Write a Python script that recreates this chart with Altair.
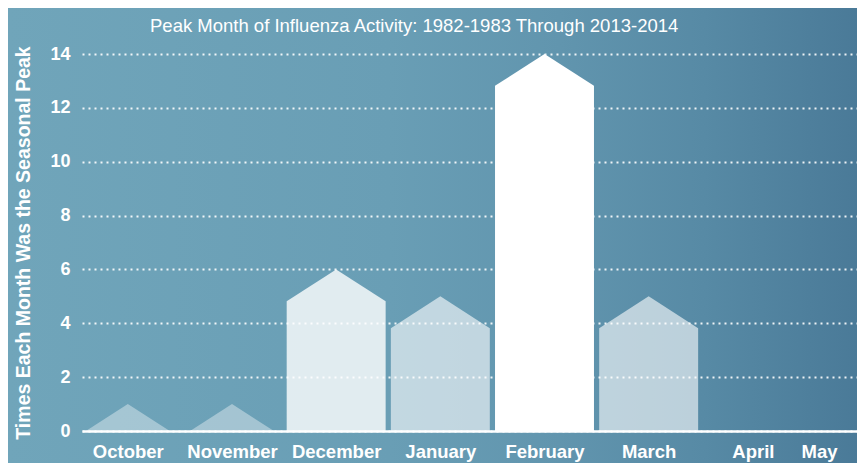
import json
import altair as alt
import pandas as pd

# ---- data ----
months = ["October", "November", "December", "January", "February", "March", "April", "May"]
counts = [1, 1, 6, 5, 14, 5, 0, 0]
y_ticks = [0, 2, 4, 6, 8, 10, 12, 14]
title_text = "Peak Month of Influenza Activity: 1982-1983 Through 2013-2014"
y_title = "Times Each Month Was the Seasonal Peak"

# ---- style constants ----
ROOF = 1.18      # height of the house "roof" in value units
HALF = 0.475     # half bar width in band units
FONT = "Liberation Sans, Arial, sans-serif"
W, H = 775, 377
PL, PT, PR, PB = 74, 46, 0, 32

rows = []
for i, (m, c) in enumerate(zip(months, counts)):
    if c <= 0:
        continue
    if c >= ROOF:
        hw, sh = HALF, c - ROOF
    else:
        hw, sh = HALF * c / ROOF, 0.0
    for dx, yv in [(-hw, sh), (0.0, c), (hw, sh)]:
        rows.append({"month": m, "count": c, "x": i + dx, "top": yv})
df = pd.DataFrame(rows)

gradient = alt.LinearGradient(
    gradient="linear",
    stops=[
        alt.GradientStop(color="#70a5ba", offset=0),
        alt.GradientStop(color="#699eb5", offset=0.45),
        alt.GradientStop(color="#6195ae", offset=0.65),
        alt.GradientStop(color="#578aa5", offset=0.82),
        alt.GradientStop(color="#4a7a98", offset=1),
    ],
    x1=0, x2=1, y1=0, y2=0,
)

bg = alt.Chart(pd.DataFrame({"a": [0]})).mark_rect(color=gradient).encode(
    x=alt.value(-PL), x2=alt.value(W + PR), y=alt.value(-PT), y2=alt.value(H + PB)
)

label_expr = json.dumps(months) + "[datum.value]"

bars = alt.Chart(df).mark_area(color="white", interpolate="linear").encode(
    x=alt.X(
        "x:Q",
        scale=alt.Scale(domain=[-0.44, 7.0], nice=False, zero=False),
        axis=alt.Axis(
            values=list(range(len(months))),
            labelExpr=label_expr,
            title=None,
            grid=False,
            ticks=False,
            domain=True,
            domainColor="white",
            domainWidth=2.5,
            labelFont=FONT,
            labelFontSize=18.5,
            labelFontWeight="bold",
            labelColor="white",
            labelBaseline="top",
            labelPadding=11,
            labelFlush=False,
            labelOverlap=False,
            labelBound=False,
            labelOffset={"condition": {"test": "datum.value == 7", "value": -38}, "value": 0},
            zindex=1,
        ),
    ),
    y=alt.Y(
        "top:Q",
        stack=None,
        scale=alt.Scale(domain=[0, 14], nice=False),
        axis=alt.Axis(
            values=y_ticks,
            title=y_title,
            titleFont=FONT,
            titleFontSize=19.5,
            titleFontWeight="bold",
            titleColor="white",
            titlePadding=16,
            grid=True,
            gridColor="white",
            gridDash=[2, 4],
            gridWidth=2,
            gridOpacity=0.9,
            ticks=False,
            domain=False,
            labelFont=FONT,
            labelFontSize=18,
            labelFontWeight="bold",
            labelColor="white",
            labelPadding=12,
            zindex=1,
        ),
    ),
    detail="month:N",
    opacity=alt.Opacity(
        "count:Q",
        scale=alt.Scale(domain=[1, 5, 6, 14], range=[0.38, 0.6, 0.8, 1.0]),
        legend=None,
    ),
)

chart = alt.layer(bg, bars).properties(
    width=W,
    height=H,
    padding={"left": PL, "top": PT, "right": PR, "bottom": PB},
    autosize=alt.AutoSizeParams(type="none"),
    background="#6a9fb5",
    title=alt.TitleParams(
        text=title_text,
        font=FONT,
        fontSize=18.5,
        fontWeight="normal",
        color="white",
        anchor="start",
        frame="group",
        dx=68,
        offset=-42,
        baseline="alphabetic",
    ),
).configure_view(stroke=None)

chart.save("out.html", embed_options={"renderer": "svg", "actions": False})
